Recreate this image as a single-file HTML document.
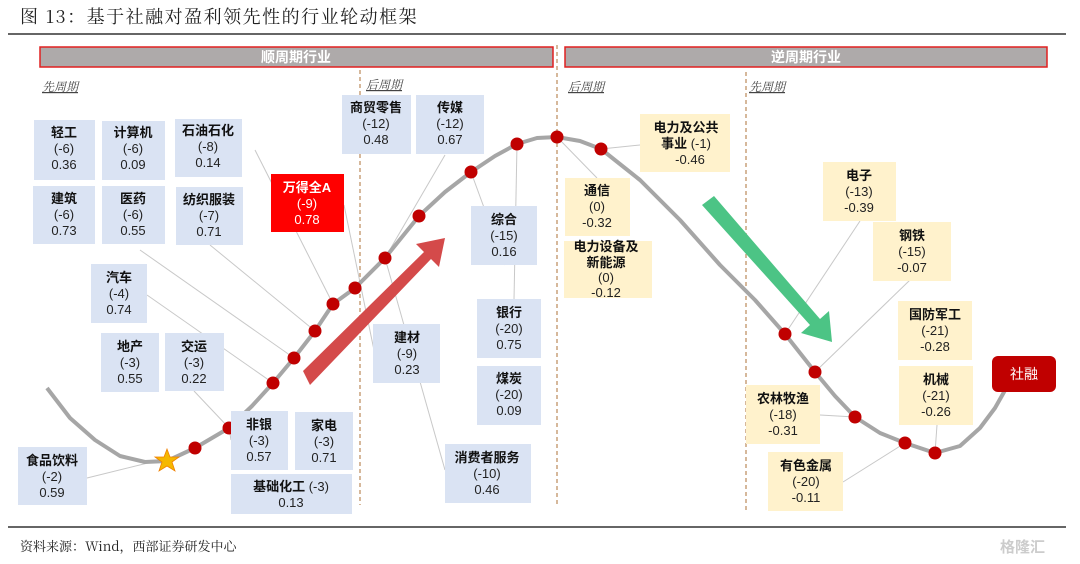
<!DOCTYPE html>
<html><head><meta charset="utf-8"><style>
html,body{margin:0;padding:0;background:#fff;}
svg{display:block;font-family:"Liberation Sans","Noto Sans CJK SC",sans-serif;}
.b{font-weight:bold;font-size:13px;fill:#111;}
.t{font-size:13px;fill:#222;}
.s{font-family:"Noto Serif CJK SC","Liberation Serif",serif;}
</style></head><body>
<svg width="1080" height="564" viewBox="0 0 1080 564" xmlns="http://www.w3.org/2000/svg">
<text x="20" y="23" class="s" font-size="18" fill="#222" letter-spacing="1.5">图 13：基于社融对盈利领先性的行业轮动框架</text>
<line x1="8" y1="34" x2="1066" y2="34" stroke="#333" stroke-width="1.5"/>
<line x1="8" y1="527" x2="1066" y2="527" stroke="#333" stroke-width="1.5"/>
<text x="20" y="551" class="s" font-size="13" fill="#222">资料来源：Wind，西部证券研发中心</text>
<text x="1000" y="552" font-size="15" fill="#ccc" font-weight="bold">格隆汇</text>

<rect x="40" y="47" width="513" height="20" fill="#aeaaaa" stroke="#e02020" stroke-width="1.5"/>
<text x="296" y="62" text-anchor="middle" font-size="14" font-weight="bold" fill="#fff">顺周期行业</text>
<rect x="565" y="47" width="482" height="20" fill="#aeaaaa" stroke="#e02020" stroke-width="1.5"/>
<text x="806" y="62" text-anchor="middle" font-size="14" font-weight="bold" fill="#fff">逆周期行业</text>

<g stroke="#c8a07a" stroke-width="1.5" stroke-dasharray="4,3">
<line x1="360" y1="70" x2="360" y2="505"/>
<line x1="557" y1="45" x2="557" y2="505"/>
<line x1="746" y1="72" x2="746" y2="510"/>
</g>
<g class="s" font-size="12" fill="#444" font-style="italic">
<text x="42" y="91" text-decoration="underline">先周期</text>
<text x="366" y="89" text-decoration="underline">后周期</text>
<text x="568" y="91" text-decoration="underline">后周期</text>
<text x="749" y="91" text-decoration="underline">先周期</text>
</g>

<g stroke="#c8c8c8" stroke-width="1">
<line x1="87" y1="478" x2="160" y2="460"/>
<line x1="194" y1="391" x2="229" y2="428"/>
<line x1="231" y1="440" x2="229" y2="428"/>
<line x1="147" y1="295" x2="273" y2="383"/>
<line x1="140" y1="250" x2="294" y2="358"/>
<line x1="210" y1="245" x2="315" y2="331"/>
<line x1="255" y1="150" x2="333" y2="304"/>
<line x1="344" y1="205" x2="375" y2="355"/>
<line x1="445" y1="470" x2="385" y2="258"/>
<line x1="385" y1="258" x2="445" y2="155"/>
<line x1="517" y1="144" x2="514" y2="300"/>
<line x1="471" y1="172" x2="505" y2="265"/>
<line x1="557" y1="137" x2="597" y2="178"/>
<line x1="640" y1="145" x2="601" y2="149"/>
<line x1="860" y1="221" x2="785" y2="334"/>
<line x1="910" y1="280" x2="815" y2="372"/>
<line x1="820" y1="415" x2="855" y2="417"/>
<line x1="843" y1="482" x2="905" y2="443"/>
<line x1="937" y1="425" x2="935" y2="453"/>
</g>

<polyline points="47,388 70,418 95,440 120,456 145,462 167,461 195,448 229,428 252,406 273,383 294,358 315,331 333,304 355,288 385,258 419,216 445,192 471,172 495,156 517,144 537,138 557,137 580,141 601,149 640,180 680,220 720,265 755,300 785,334 815,372 835,396 855,417 880,433 905,443 935,453 960,446 980,428 995,408 1008,385" fill="none" stroke="#a6a6a6" stroke-width="4" stroke-linejoin="round"/>

<polygon points="303,371 424,252 416,244 445,238 439,267 431,259 310,385" fill="#d44a4a"/>
<polygon points="702,205 810,325 801,333 832,342 829,311 820,319 714,196" fill="#4cc485"/>

<g fill="#c00000">
<circle cx="195" cy="448" r="6.5"/><circle cx="229" cy="428" r="6.5"/><circle cx="273" cy="383" r="6.5"/>
<circle cx="294" cy="358" r="6.5"/><circle cx="315" cy="331" r="6.5"/><circle cx="333" cy="304" r="6.5"/>
<circle cx="355" cy="288" r="6.5"/><circle cx="385" cy="258" r="6.5"/><circle cx="419" cy="216" r="6.5"/>
<circle cx="471" cy="172" r="6.5"/><circle cx="517" cy="144" r="6.5"/><circle cx="557" cy="137" r="6.5"/>
<circle cx="601" cy="149" r="6.5"/><circle cx="785" cy="334" r="6.5"/><circle cx="815" cy="372" r="6.5"/>
<circle cx="855" cy="417" r="6.5"/><circle cx="905" cy="443" r="6.5"/><circle cx="935" cy="453" r="6.5"/>
</g>
<polygon points="167,449 170,457 179,457 172,462 175,471 167,466 159,471 162,462 155,457 164,457" fill="#f5b800" stroke="#f08000" stroke-width="0.8"/>

<g fill="#dae3f3">
<rect x="34" y="120" width="61" height="60"/><rect x="102" y="121" width="63" height="59"/><rect x="175" y="119" width="67" height="58"/>
<rect x="33" y="186" width="62" height="58"/><rect x="102" y="186" width="63" height="58"/><rect x="176" y="187" width="67" height="58"/>
<rect x="91" y="264" width="56" height="59"/><rect x="101" y="333" width="58" height="59"/><rect x="165" y="333" width="59" height="58"/>
<rect x="231" y="411" width="57" height="59"/><rect x="295" y="412" width="58" height="58"/><rect x="231" y="474" width="121" height="40"/>
<rect x="18" y="447" width="69" height="58"/>
<rect x="342" y="95" width="69" height="59"/><rect x="416" y="95" width="68" height="59"/>
<rect x="471" y="206" width="66" height="59"/><rect x="373" y="324" width="67" height="59"/>
<rect x="477" y="299" width="64" height="59"/><rect x="477" y="366" width="64" height="59"/>
<rect x="445" y="444" width="86" height="59"/>
</g>
<rect x="271" y="174" width="73" height="58" fill="#ff0000"/>
<g fill="#fff2cc">
<rect x="565" y="178" width="65" height="58"/><rect x="564" y="241" width="88" height="57"/>
<rect x="640" y="114" width="90" height="58"/>
<rect x="823" y="162" width="73" height="59"/><rect x="873" y="222" width="78" height="59"/>
<rect x="898" y="301" width="74" height="59"/><rect x="899" y="366" width="74" height="59"/>
<rect x="746" y="385" width="74" height="59"/><rect x="768" y="452" width="75" height="59"/>
</g>
<rect x="992" y="356" width="64" height="36" rx="6" fill="#c00000"/>
<text x="1024" y="379" text-anchor="middle" font-size="14" fill="#fff">社融</text>

<g text-anchor="middle">
<text x="64" y="137" class="b">轻工</text><text x="64" y="153" class="t">(-6)</text><text x="64" y="169" class="t">0.36</text>
<text x="133" y="137" class="b">计算机</text><text x="133" y="153" class="t">(-6)</text><text x="133" y="169" class="t">0.09</text>
<text x="208" y="135" class="b">石油石化</text><text x="208" y="151" class="t">(-8)</text><text x="208" y="167" class="t">0.14</text>
<text x="64" y="203" class="b">建筑</text><text x="64" y="219" class="t">(-6)</text><text x="64" y="235" class="t">0.73</text>
<text x="133" y="203" class="b">医药</text><text x="133" y="219" class="t">(-6)</text><text x="133" y="235" class="t">0.55</text>
<text x="209" y="204" class="b">纺织服装</text><text x="209" y="220" class="t">(-7)</text><text x="209" y="236" class="t">0.71</text>
<text x="307" y="192" class="b" style="fill:#fff">万得全A</text><text x="307" y="208" class="t" style="fill:#fff">(-9)</text><text x="307" y="224" class="t" style="fill:#fff">0.78</text>
<text x="119" y="282" class="b">汽车</text><text x="119" y="298" class="t">(-4)</text><text x="119" y="314" class="t">0.74</text>
<text x="130" y="351" class="b">地产</text><text x="130" y="367" class="t">(-3)</text><text x="130" y="383" class="t">0.55</text>
<text x="194" y="351" class="b">交运</text><text x="194" y="367" class="t">(-3)</text><text x="194" y="383" class="t">0.22</text>
<text x="259" y="429" class="b">非银</text><text x="259" y="445" class="t">(-3)</text><text x="259" y="461" class="t">0.57</text>
<text x="324" y="430" class="b">家电</text><text x="324" y="446" class="t">(-3)</text><text x="324" y="462" class="t">0.71</text>
<text x="291" y="491"><tspan class="b">基础化工</tspan><tspan class="t"> (-3)</tspan></text><text x="291" y="507" class="t">0.13</text>
<text x="52" y="465" class="b">食品饮料</text><text x="52" y="481" class="t">(-2)</text><text x="52" y="497" class="t">0.59</text>
<text x="376" y="112" class="b">商贸零售</text><text x="376" y="128" class="t">(-12)</text><text x="376" y="144" class="t">0.48</text>
<text x="450" y="112" class="b">传媒</text><text x="450" y="128" class="t">(-12)</text><text x="450" y="144" class="t">0.67</text>
<text x="504" y="224" class="b">综合</text><text x="504" y="240" class="t">(-15)</text><text x="504" y="256" class="t">0.16</text>
<text x="407" y="342" class="b">建材</text><text x="407" y="358" class="t">(-9)</text><text x="407" y="374" class="t">0.23</text>
<text x="509" y="317" class="b">银行</text><text x="509" y="333" class="t">(-20)</text><text x="509" y="349" class="t">0.75</text>
<text x="509" y="383" class="b">煤炭</text><text x="509" y="399" class="t">(-20)</text><text x="509" y="415" class="t">0.09</text>
<text x="487" y="462" class="b">消费者服务</text><text x="487" y="478" class="t">(-10)</text><text x="487" y="494" class="t">0.46</text>
<text x="597" y="195" class="b">通信</text><text x="597" y="211" class="t">(0)</text><text x="597" y="227" class="t">-0.32</text>
<text x="606" y="251" class="b">电力设备及</text><text x="606" y="267" class="b">新能源</text><text x="606" y="282" class="t">(0)</text><text x="606" y="297" class="t">-0.12</text>
<text x="686" y="132" class="b">电力及公共</text><text x="686" y="148"><tspan class="b">事业</tspan><tspan class="t"> (-1)</tspan></text><text x="690" y="164" class="t">-0.46</text>
<text x="859" y="180" class="b">电子</text><text x="859" y="196" class="t">(-13)</text><text x="859" y="212" class="t">-0.39</text>
<text x="912" y="240" class="b">钢铁</text><text x="912" y="256" class="t">(-15)</text><text x="912" y="272" class="t">-0.07</text>
<text x="935" y="319" class="b">国防军工</text><text x="935" y="335" class="t">(-21)</text><text x="935" y="351" class="t">-0.28</text>
<text x="936" y="384" class="b">机械</text><text x="936" y="400" class="t">(-21)</text><text x="936" y="416" class="t">-0.26</text>
<text x="783" y="403" class="b">农林牧渔</text><text x="783" y="419" class="t">(-18)</text><text x="783" y="435" class="t">-0.31</text>
<text x="806" y="470" class="b">有色金属</text><text x="806" y="486" class="t">(-20)</text><text x="806" y="502" class="t">-0.11</text>
</g>
</svg>
</body></html>
